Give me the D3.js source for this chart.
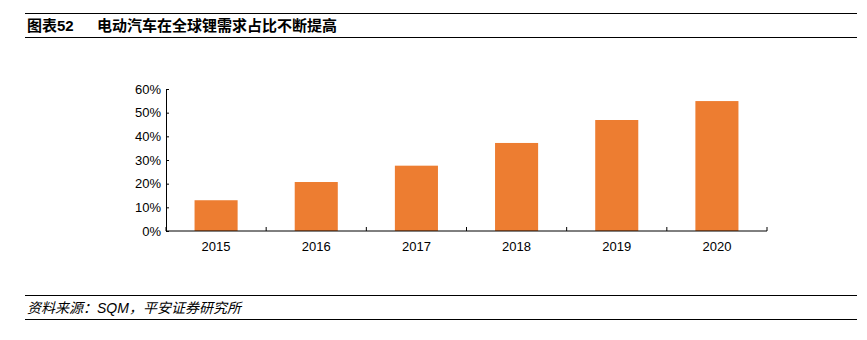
<!DOCTYPE html>
<html>
<head>
<meta charset="utf-8">
<script src="https://cdn.jsdelivr.net/npm/d3@7"></script>
<style>
  body { margin: 0; background: #fff; }
  svg text { font-family: "Liberation Sans", Arial, "Noto Sans CJK SC", sans-serif; }
</style>
</head>
<body>
<div id="chart"></div>
<script>
const years = ["2015", "2016", "2017", "2018", "2019", "2020"];
const evShare = [13.0, 20.7, 27.6, 37.2, 46.9, 54.9];
const yTicks = [0, 10, 20, 30, 40, 50, 60];

const entireWidth = 867;
const entireHeight = 340;
const margins = { top: 89, right: 100, bot: 109, left: 166 };
const chartWidth = entireWidth - margins.left - margins.right;
const chartHeight = entireHeight - margins.top - margins.bot;

const svg = d3
  .select("#chart")
  .append("svg")
  .attr("width", entireWidth)
  .attr("height", entireHeight);

// header / footer rules
const rule = (y, w) =>
  svg.append("line")
    .attr("x1", 25).attr("x2", 857)
    .attr("y1", y).attr("y2", y)
    .attr("stroke", "#000").attr("stroke-width", w);
rule(13.5, 1.2);
rule(37.5, 1.2);
rule(295.5, 1.2);
rule(319.5, 1.2);

const title = svg.append("text").attr("x", 27).attr("y", 31).attr("font-size", 15).attr("font-weight", "bold");
title.append("tspan").text("图表52");
title.append("tspan").attr("x", 97).attr("font-weight", "600").text("电动汽车在全球锂需求占比不断提高");

svg.append("text")
  .attr("x", 27).attr("y", 313)
  .attr("font-size", 14)
  .attr("font-style", "italic")
  .text("资料来源：SQM，平安证券研究所");

const g = svg.append("g").attr("transform", `translate(${margins.left},${margins.top})`);

const xScale = d3.scaleBand().domain(years).range([0, chartWidth]).paddingInner(0.57).paddingOuter(0.285);
const yScale = d3.scaleLinear().domain([0, 60]).range([chartHeight, 0]);

g.selectAll("rect.bar")
  .data(years)
  .enter()
  .append("rect")
  .attr("class", "bar")
  .attr("x", (d) => xScale(d))
  .attr("width", xScale.bandwidth())
  .attr("y", (d, i) => yScale(evShare[i]))
  .attr("height", (d, i) => chartHeight - yScale(evShare[i]))
  .attr("fill", "#ED7D31");

// y axis, ticks pointing inward
const yAxis = g.append("g")
  .call(d3.axisRight(yScale).tickValues(yTicks).tickSize(3).tickFormat((d) => d + "%"));
yAxis.select(".domain").attr("stroke", "#000");
yAxis.selectAll("text")
  .attr("x", -5)
  .attr("text-anchor", "end")
  .attr("font-size", 13)
  .attr("fill", "#000");

// x axis with ticks at category boundaries
const step = xScale.step();
const xAxisG = g.append("g").attr("transform", `translate(0,${chartHeight})`);
xAxisG.append("line")
  .attr("x1", 0).attr("x2", chartWidth)
  .attr("stroke", "#000").attr("stroke-width", 1);
xAxisG.selectAll("line.tick")
  .data(d3.range(years.length + 1))
  .enter()
  .append("line")
  .attr("class", "tick")
  .attr("x1", (i) => i * step).attr("x2", (i) => i * step)
  .attr("y1", 0).attr("y2", -4)
  .attr("stroke", "#000");
xAxisG.selectAll("text")
  .data(years)
  .enter()
  .append("text")
  .attr("x", (d) => xScale(d) + xScale.bandwidth() / 2)
  .attr("y", 20)
  .attr("text-anchor", "middle")
  .attr("font-size", 13)
  .text((d) => d);
</script>
</body>
</html>
